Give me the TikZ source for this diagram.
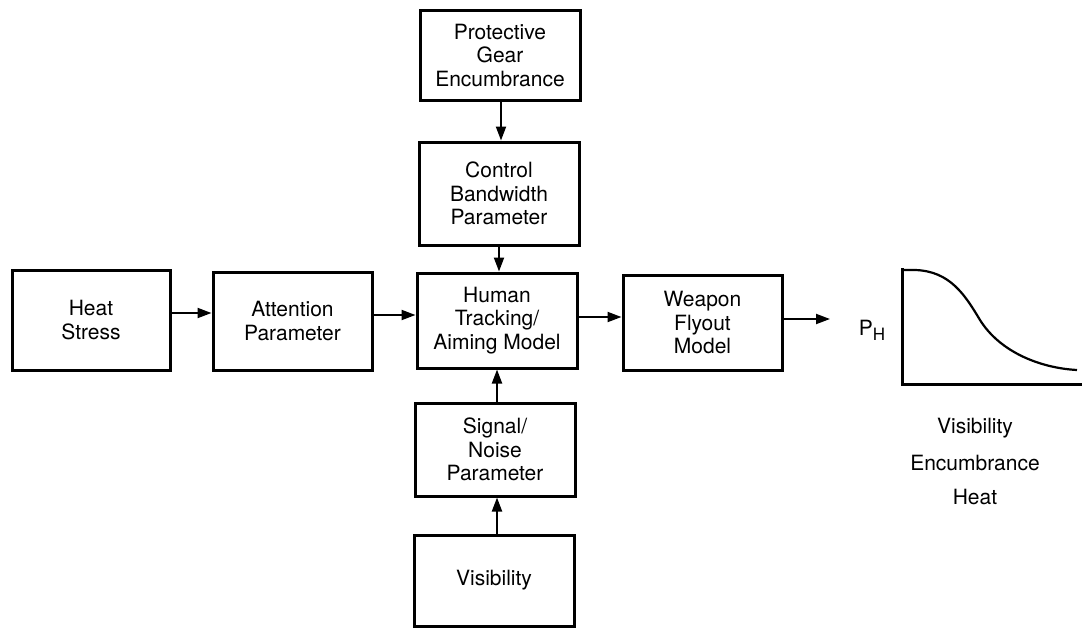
\documentclass[tikz,border=0pt]{standalone}
\usepackage{fontspec}
\setmainfont{TeX Gyre Heros}
\usetikzlibrary{arrows.meta}
\begin{document}
\begin{tikzpicture}[x=1pt,y=-1pt,
  blockbox/.style={draw,line width=3pt,minimum width=160pt,inner sep=0pt,
    align=center,font=\fontsize{21}{23.5}\selectfont},
  flow/.style={line width=2pt,-{Triangle[length=14pt,width=10pt]}},
  axislabel/.style={font=\fontsize{21}{23.5}\selectfont}]
\useasboundingbox (0,0) rectangle (1082,627);

% main column
\node[blockbox,minimum height=90pt]  (prot)   at (500,55)    {Protective\\Gear\\Encumbrance};
\node[blockbox,minimum height=103pt] (ctrl)   at (499,193.5) {Control\\Bandwidth\\Parameter};
\node[blockbox,minimum height=95pt]  (human)  at (497,320.5) {Human\\Tracking/\\Aiming Model};
\node[blockbox,minimum height=93pt]  (signal) at (495,449.5) {Signal/\\Noise\\Parameter};
\node[blockbox,minimum height=91pt]  (vis)    at (494,580.5) {Visibility};

% main row
\node[blockbox,minimum width=158pt,minimum height=100pt] (heat)   at (91,320)    {Heat\\Stress};
\node[blockbox,minimum width=159pt,minimum height=98pt]  (attn)   at (292.5,321) {Attention\\Parameter};
\node[blockbox,minimum width=159pt,minimum height=95pt]  (weapon) at (702.5,322.5) {Weapon\\Flyout\\Model};

% connectors
\draw[flow] (prot.south -| 501,0) -- (ctrl.north -| 501,0);
\draw[flow] (ctrl.south -| 499,0) -- (human.north -| 499,0);
\draw[flow] (signal.north -| 497,0) -- (human.south -| 497,0);
\draw[flow] (vis.north -| 497,0) -- (signal.south -| 497,0);
\draw[flow] (heat.east |- 0,313) -- (attn.west |- 0,313);
\draw[flow] (attn.east |- 0,315) -- (human.west |- 0,315);
\draw[flow] (human.east |- 0,317) -- (weapon.west |- 0,317);
\coordinate (out) at (830,319);
\draw[flow] (weapon.east |- out) -- (out);

% output curve
\coordinate (ytop) at (902,268);
\coordinate (origin) at (902,384);
\coordinate (xend) at (1082,384);
\draw[line width=3pt] (ytop) -- (origin) -- (xend);
\draw[line width=2.2pt] (902,270) -- (915,270)
  .. controls (950,271) and (965,295) .. (980,320)
  .. controls (1000,352) and (1040,368) .. (1077,370);
\node[axislabel] (ph) at (872,330) {P\raisebox{-0.45ex}{\fontsize{17}{17}\selectfont H}};
\node[axislabel] (lvis) at (975,428) {Visibility};
\node[axislabel] (lenc) at (975,463) {Encumbrance};
\node[axislabel] (lheat) at (975,497) {Heat};
\end{tikzpicture}
\end{document}
